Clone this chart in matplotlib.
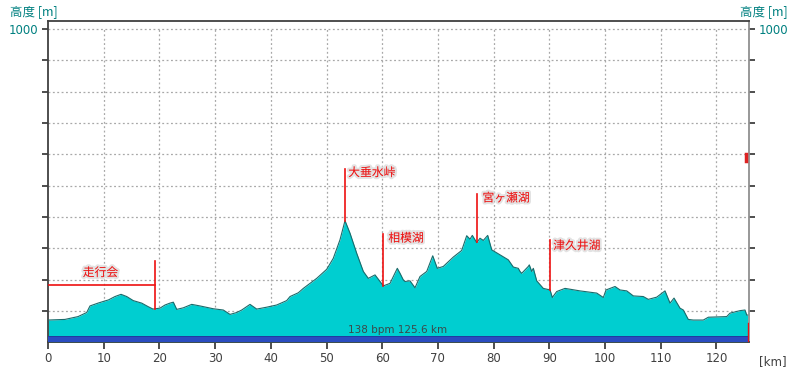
import numpy as np
import matplotlib
matplotlib.use("Agg")
import matplotlib.pyplot as plt
import matplotlib.patheffects as pe

plt.rcParams['font.family'] = ['Noto Sans CJK JP', 'DejaVu Sans']

# ---- data ----
dist_km = [0.0, 3.05, 5.39, 6.95, 7.54, 8.98, 10.23, 10.83, 12.03, 13.11, 14.13, 15.31,
           16.82, 17.95, 18.85, 20.11, 21.01, 21.90, 22.50, 23.11, 24.29, 25.80, 27.29,
           29.68, 31.47, 32.68, 33.88, 34.78, 36.27, 37.47, 39.26, 41.06, 42.85, 43.45,
           44.94, 45.84, 48.24, 50.04, 51.22, 52.42, 53.32, 54.22, 55.42, 56.61, 57.50,
           58.71, 59.61, 60.20, 61.40, 62.71, 63.20, 63.79, 64.09, 64.99, 65.89, 66.79,
           67.99, 69.07, 69.89, 70.97, 72.77, 74.27, 75.17, 75.76, 76.18, 76.97, 77.56,
           78.15, 78.94, 79.66, 81.15, 82.64, 83.54, 84.43, 84.74, 85.04, 86.23, 86.41,
           86.84, 87.13, 87.74, 88.92, 90.13, 90.54, 91.33, 92.82, 95.51, 98.51, 99.70,
           100.18, 101.80, 102.69, 103.90, 105.08, 106.87, 107.77, 109.28, 110.77, 111.67,
           112.39, 113.46, 114.06, 114.95, 115.85, 117.65, 118.55, 121.85, 122.44, 124.24,
           125.13, 125.44, 125.6]
elev_m = [71, 73, 82, 95, 116, 125, 132, 135, 146, 153, 146, 133,
          125, 114, 106, 109, 119, 125, 128, 105, 110, 121, 116,
          107, 103, 89, 95, 103, 121, 106, 112, 119, 133, 146,
          158, 172, 204, 233, 268, 327, 388, 348, 284, 226, 204,
          215, 194, 180, 188, 236, 220, 199, 194, 196, 174, 210,
          226, 276, 236, 242, 272, 293, 340, 329, 341, 318, 332,
          325, 341, 295, 279, 263, 240, 236, 226, 220, 242, 247,
          226, 236, 196, 172, 167, 143, 162, 172, 164, 157, 143,
          167, 178, 167, 164, 148, 146, 137, 144, 164, 125,
          141, 109, 103, 73, 71, 71, 80, 82, 93, 101,
          103, 87, 87]

landmarks = ['走行会', '大垂水峠', '相模湖', '宮ヶ瀬湖', '津久井湖']
landmark_km = [19.2, 53.3, 60.2, 77.1, 90.1]
landmark_top_m = [260, 553, 346, 474, 325]
start_line_m = 183
label_km = [9.4, 53.9, 61.1, 78.0, 90.7]
label_m = [222, 541, 332, 460, 308]

x_ticks = list(range(0, 121, 10))
summary = '138 bpm 125.6 km'
total_km = 125.6
marker_m = 590

# ---- figure ----
fig = plt.figure(figsize=(8.0, 3.68), dpi=100)
ax = fig.add_axes([48/800, 1-342.3/368, (749-48)/800, (342.3-21)/368])
ax.set_xlim(0, 125.85)
ax.set_ylim(0, 1025)

teal = '#008080'
gridc = '#a8a8a8'
# grid
for yv in range(100, 1001, 100):
    ax.plot([0, 125.85], [yv, yv], ls=(0, (1.5, 2)), color=gridc, lw=0.9, zorder=1)
for xv in x_ticks[1:]:
    ax.plot([xv, xv], [0, 1000], ls=(0, (1.5, 2)), color=gridc, lw=0.9, zorder=1)

x = np.array(dist_km)
y = np.array(elev_m)
ax.fill_between(x, 0, y, color='#00CED0', lw=0, zorder=2)
ax.plot(x, y, color='#1a6b6b', lw=0.8, zorder=3)
ax.fill_between([0, total_km], 0, 20, color='#2a4cc0', lw=0, zorder=4)
ax.plot([0, total_km], [20, 20], color='#1f3a9a', lw=0.6, zorder=4)

red = '#ee1111'
# start line
ax.plot([0, landmark_km[0]], [start_line_m, start_line_m], color=red, lw=1.2, zorder=5)
for name, km, top, lk, lm in zip(landmarks, landmark_km, landmark_top_m, label_km, label_m):
    bottom = np.interp(km, x, y)
    ax.plot([km, km], [bottom, top], color=red, lw=1.2, zorder=5)
    ha = 'center' if name == '走行会' else 'left'
    ax.text(lk, lm, name, color=red, fontsize=8.5, ha=ha, va='center', zorder=6,
            path_effects=[pe.withStroke(linewidth=3, foreground='#d8d8d8', alpha=0.7)])

ax.plot([total_km, total_km], [0, 62], color=red, lw=1.0, zorder=5)
ax.plot([125.3, 125.3], [578, 600], color='#dd2222', lw=2.5, zorder=6)

ax.text(total_km/2, 38, summary, color='#3a4a4a', fontsize=7.5, ha='center', va='center',
        family='DejaVu Sans', zorder=6)

# spines / ticks
for s in ['left', 'top', 'bottom']:
    ax.spines[s].set_color('#404040')
    ax.spines[s].set_linewidth(1.3)
ax.spines['right'].set_color('#909090')
ax.spines['right'].set_linewidth(1.3)

ax.set_xticks(x_ticks)
ax.set_xticklabels([str(t) for t in x_ticks], family='DejaVu Sans')
ax.tick_params(axis='x', direction='out', length=5, width=1.3, color='#404040',
               labelsize=8.5, labelcolor='#404040', pad=2)
yt = list(range(100, 1001, 100))
ax.set_yticks(yt)
ax.set_yticklabels(['' if v != 1000 else '1000' for v in yt], family='DejaVu Sans')
ax.tick_params(axis='y', direction='out', length=4, width=1.3, color='#404040',
               labelsize=8.5, labelcolor=teal, pad=3, left=True, right=True,
               labelleft=True, labelright=True)

fig.text(10/800, 1-12/368, '高度 [m]', color=teal, fontsize=9, ha='left', va='center')
fig.text(788/800, 1-12/368, '高度 [m]', color=teal, fontsize=9, ha='right', va='center')
fig.text(787/800, 1-362/368, '[km]', color='#404040', fontsize=8.5, ha='right', va='center',
         family='DejaVu Sans')

fig.savefig('out.png', dpi=100)
